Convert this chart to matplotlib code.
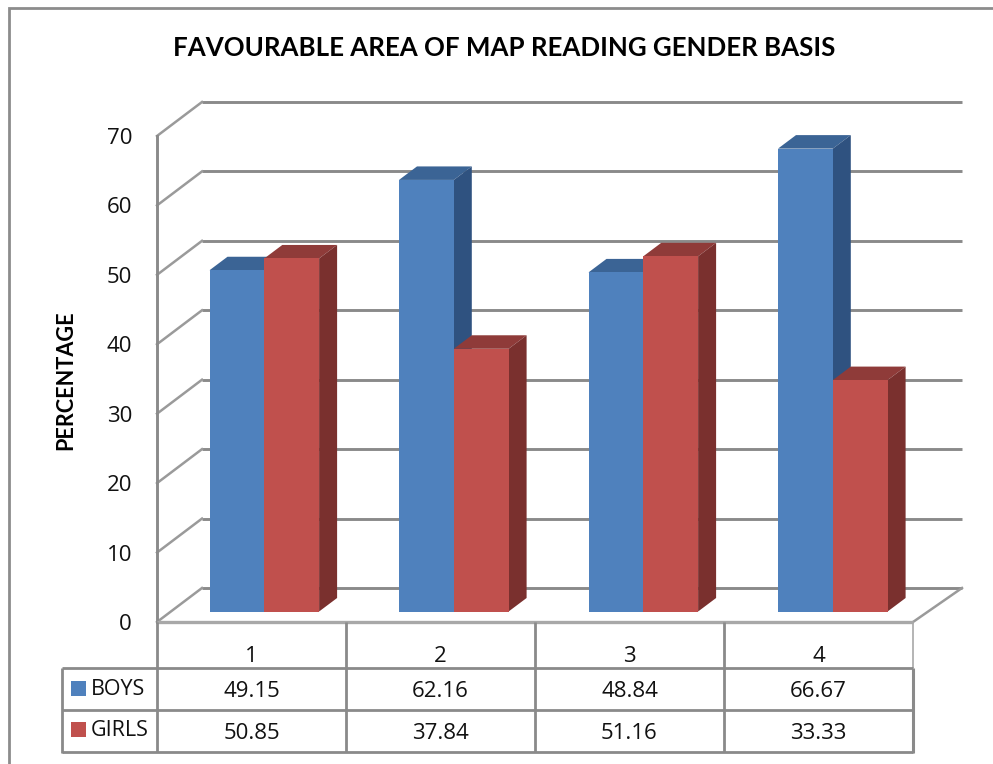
import matplotlib
matplotlib.use("Agg")
import matplotlib.pyplot as plt
from matplotlib.patches import Polygon, Rectangle

categories = ["1", "2", "3", "4"]
boys = [49.15, 62.16, 48.84, 66.67]
girls = [50.85, 37.84, 51.16, 33.33]
boys_labels = ["49.15", "62.16", "48.84", "66.67"]
girls_labels = ["50.85", "37.84", "51.16", "33.33"]
yticks = [0, 10, 20, 30, 40, 50, 60, 70]

W, H = 993, 764
X0, CAT = 157.0, 189.0
Y0, UNIT = 622.0, 6.943
TEXT = "Open Sans"
BOLD = "Lato"
GRID = "#8a8a8a"
LW = 2.1

fig = plt.figure(figsize=(W / 100, H / 100), dpi=100, facecolor="white")
ax = fig.add_axes([0, 0, 1, 1])
ax.set_xlim(-X0 / CAT, (W - X0) / CAT)
ax.set_ylim((Y0 - H) / UNIT, Y0 / UNIT)
ax.axis("off")


def px(x, y):
    return (x - X0) / CAT, (Y0 - y) / UNIT


def pline(xs, ys, color=GRID, lw=LW, z=1):
    pts = [px(a, b) for a, b in zip(xs, ys)]
    ax.plot([p[0] for p in pts], [p[1] for p in pts], color=color, lw=lw,
            solid_capstyle="butt", solid_joinstyle="miter", zorder=z)


def ptext(x, y, s, **kw):
    a, b = px(x, y)
    ax.text(a, b, s, **kw)


# outer frame: left and top edges only
pline([9, 9, 993], [764, 8, 8], lw=2.0, color="#8c8c8c")

# walls
WALL_DX, WALL_DY = 45 / CAT, 34 / UNIT
FLOOR_DX = 49 / CAT
xleft, xright = 0.0, float(len(categories))
for t in yticks:
    ax.plot([xleft + WALL_DX, xright + FLOOR_DX], [t + WALL_DY, t + WALL_DY],
            color=GRID, lw=LW, zorder=1, solid_capstyle="butt")
    ax.plot([xleft, xleft + WALL_DX], [t, t + WALL_DY], color="#9a9a9a", lw=1.8, zorder=1)
ax.plot([xleft, xleft], [0, yticks[-1]], color=GRID, lw=LW, zorder=1)
ax.plot([xright, xright + FLOOR_DX], [0, WALL_DY], color="#9a9a9a", lw=1.8, zorder=1)

# bars
BAR_W = 54.8 / CAT
BAR_DX, BAR_DY = 18 / CAT, 13.5 / UNIT
BASE = 10.5 / UNIT
BAR_START = 52.5 / CAT
BAR_STEP = 189.5 / CAT


def bar3d(x, value, front, top, side, z):
    ax.bar(x, value, width=BAR_W, bottom=BASE, align="edge", color=front, lw=0, zorder=z + 0.2)
    h = BASE + value
    ax.add_patch(Polygon([(x, h), (x + BAR_W, h), (x + BAR_W + BAR_DX, h + BAR_DY),
                          (x + BAR_DX, h + BAR_DY)], closed=True, fc=top, lw=0, zorder=z))
    ax.add_patch(Polygon([(x + BAR_W, BASE), (x + BAR_W + BAR_DX, BASE + BAR_DY),
                          (x + BAR_W + BAR_DX, h + BAR_DY), (x + BAR_W, h)],
                         closed=True, fc=side, lw=0, zorder=z))


for i in range(len(categories)):
    x = BAR_START + i * BAR_STEP
    bar3d(x, boys[i], "#4f81bd", "#3b6495", "#2f5280", 3)
    bar3d(x + BAR_W, girls[i], "#c0504d", "#8f3b39", "#7a302e", 4)

# y tick labels
for t in yticks:
    ax.text(px(132, 0)[0], t, str(t), ha="right", va="center_baseline",
            family=TEXT, fontsize=16, color="#111111", zorder=6)

# data table
ROWS = [668, 710, 752]
XR = xright * CAT + X0
pline([X0, XR], [Y0, Y0], lw=2.4, z=5, color="#a8a8a8")
for k in range(len(categories)):
    xk = X0 + k * CAT
    pline([xk, xk], [Y0, ROWS[-1]], lw=2.0, z=5)
pline([XR, XR], [Y0, ROWS[0]], lw=1.2, z=5, color="#a8a8a8")
pline([XR, XR], [ROWS[0], ROWS[-1] + 1], lw=2.2, z=5)
for r in ROWS:
    pline([62, XR], [r, r], lw=2.0, z=5)
pline([62, 62], [ROWS[0], ROWS[-1] + 1], lw=2.0, z=5)

for k, c in enumerate(categories):
    xc = X0 + (k + 0.5) * CAT
    ptext(xc, 654, c, ha="center", va="center_baseline", family=TEXT, fontsize=16, color="#111111")
    ptext(xc, 689, boys_labels[k], ha="center", va="center_baseline", family=TEXT, fontsize=16, color="#111111")
    ptext(xc, 731, girls_labels[k], ha="center", va="center_baseline", family=TEXT, fontsize=16, color="#111111")

for name, color, yc in [("BOYS", "#4f81bd", 688), ("GIRLS", "#c0504d", 729.5)]:
    a, b = px(71, yc + 7.5)
    ax.add_patch(Rectangle((a, b), 15 / CAT, 15 / UNIT, fc=color, lw=0, zorder=6))
    ptext(90.5, yc - 1, name, ha="left", va="center_baseline", family=TEXT, fontsize=15.5, color="#111111")

# titles
ptext(504.5, 46, "FAVOURABLE AREA OF MAP READING GENDER BASIS", ha="center", va="center_baseline",
      family=BOLD, fontweight="bold", fontsize=18.6, color="black")
ptext(66, 380, "PERCENTAGE", ha="center", va="center", rotation=90,
      family=BOLD, fontweight="bold", fontsize=15.6, color="black")

fig.savefig("out.png", dpi=100)
